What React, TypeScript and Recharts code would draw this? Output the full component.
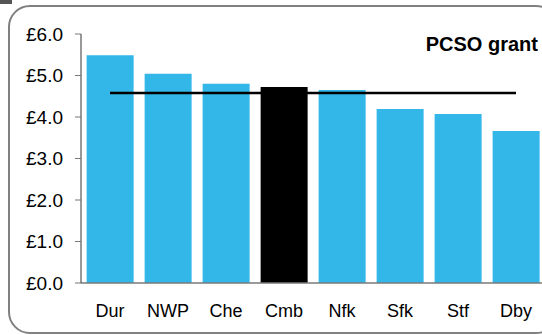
import React from "react";
import { ComposedChart, Bar, Line, XAxis, YAxis, Cell } from "recharts";

const categories = ["Dur", "NWP", "Che", "Cmb", "Nfk", "Sfk", "Stf", "Dby"];
const grantValues = [5.49, 5.04, 4.8, 4.72, 4.65, 4.19, 4.07, 3.66];
const averageValues = [4.58, 4.58, 4.58, 4.58, 4.58, 4.58, 4.58, 4.58];
const yTicks = [0, 1, 2, 3, 4, 5, 6];
const highlighted = "Cmb";
const chartTitle = "PCSO grant";

const data = categories.map((name, i) => ({
  name,
  grant: grantValues[i],
  avg: averageValues[i],
}));

const FONT = "'Liberation Sans', Arial, sans-serif";

export default function App() {
  return (
    <div
      style={{
        position: "absolute",
        left: 0,
        top: 0,
        width: 542,
        height: 335,
        overflow: "hidden",
        background: "#fff",
        fontFamily: FONT,
      }}
    >
      <div
        style={{
          position: "absolute",
          left: 0,
          top: 0,
          width: 12,
          height: 4,
          background: "#555",
        }}
      />
      <div
        style={{
          position: "absolute",
          left: 8,
          top: 5,
          width: 550,
          height: 329,
          boxSizing: "border-box",
          border: "2px solid #808080",
          borderRadius: 22,
        }}
      />
      <div style={{ position: "absolute", left: 0, top: 0 }}>
        <ComposedChart
          width={545}
          height={335}
          data={data}
          margin={{ top: 34, right: 0, bottom: 22, left: 0 }}
          barCategoryGap="9.7%"
        >
          <XAxis
            dataKey="name"
            height={30}
            tickLine={false}
            tickSize={6}
            tickMargin={15}
            axisLine={{ stroke: "#7a7a7a", strokeWidth: 1.5 }}
            tick={{ fill: "#000", fontSize: 18, fontFamily: FONT }}
            interval={0}
          />
          <YAxis
            width={81}
            domain={[0, 6]}
            ticks={yTicks}
            interval={0}
            tickSize={6}
            tickMargin={12}
            tickFormatter={(v: number) => `£${v.toFixed(1)}`}
            axisLine={{ stroke: "#333", strokeWidth: 1 }}
            tickLine={{ stroke: "#777", strokeWidth: 1 }}
            tick={{ fill: "#000", fontSize: 19, fontFamily: FONT }}
          />
          <Bar dataKey="grant" isAnimationActive={false}>
            {data.map((d) => (
              <Cell
                key={d.name}
                fill={d.name === highlighted ? "#000000" : "#32B7E8"}
              />
            ))}
          </Bar>
          <Line
            dataKey="avg"
            stroke="#000"
            strokeWidth={2.5}
            dot={false}
            activeDot={false}
            isAnimationActive={false}
          />
        </ComposedChart>
      </div>
      <div
        style={{
          position: "absolute",
          right: 4,
          top: 32,
          fontWeight: "bold",
          fontSize: 20,
          lineHeight: "24px",
          color: "#000",
          whiteSpace: "nowrap",
        }}
      >
        {chartTitle}
      </div>
    </div>
  );
}
